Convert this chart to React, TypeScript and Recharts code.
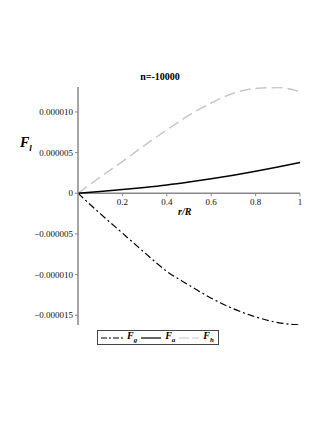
import { LineChart, Line, XAxis, YAxis, ReferenceLine } from 'recharts'

// r/R sample points
const rr = [0, 0.1, 0.2, 0.3, 0.4, 0.5, 0.6, 0.7, 0.8, 0.9, 1]
// values in units of 1e-6
const fg = [0, -2.5, -4.9, -7.3, -9.6, -11.3, -12.9, -14.2, -15.2, -15.9, -16.2]
const fa = [0, 0.22, 0.46, 0.72, 1.02, 1.38, 1.78, 2.22, 2.7, 3.22, 3.78]
const fh = [0, 2.0, 3.9, 5.9, 7.8, 9.6, 11.1, 12.3, 12.9, 13.0, 12.5]

const xTicks = [0.2, 0.4, 0.6, 0.8, 1]
const yTicks = [-0.000015, -0.00001, -0.000005, 0, 0.000005, 0.00001]
const Y_MIN = -0.0000162
const Y_MAX = 0.00001307

const data = rr.map((r, i) => ({ r, fg: fg[i] * 1e-6, fa: fa[i] * 1e-6, fh: fh[i] * 1e-6 }))

const W = 327
const H = 423
const TOP = 87
const BOTTOM = 325
const zeroY = TOP + ((BOTTOM - TOP) * Y_MAX) / (Y_MAX - Y_MIN)

const FONT = '"Liberation Serif", "DejaVu Serif", serif'
const AXIS = '#888'

const fmtY = (v: number) => (v === 0 ? '0' : v.toFixed(6).replace('-', '\u2212'))

function XTick(props: any) {
  const { x, payload } = props
  return (
    <g>
      <line x1={x} x2={x} y1={zeroY} y2={zeroY + 3} stroke={AXIS} />
      <text x={x} y={zeroY + 12} textAnchor="middle" fontFamily={FONT} fontSize={9} fill="#111">
        {payload.value}
      </text>
    </g>
  )
}

function Sub({ main, sub }: { main: string; sub: string }) {
  return (
    <span style={{ fontFamily: FONT, fontWeight: 'bold', fontStyle: 'italic', fontSize: 10 }}>
      {main}
      <sub style={{ fontSize: 7 }}>{sub}</sub>
    </span>
  )
}

export default function App() {
  return (
    <div style={{ position: 'absolute', left: 0, top: 0, width: W, height: H, background: '#fff' }}>
      <LineChart width={W} height={H} data={data} margin={{ top: TOP, right: 27, left: 8, bottom: H - BOTTOM - 1 }}>
        <XAxis
          dataKey="r"
          type="number"
          domain={[0, 1]}
          ticks={xTicks}
          height={1}
          axisLine={false}
          tickLine={false}
          interval={0}
          tick={(p: any) => <XTick {...p} />}
        />
        <YAxis
          type="number"
          domain={[Y_MIN, Y_MAX]}
          ticks={yTicks}
          width={70}
          allowDataOverflow
          tickFormatter={fmtY}
          axisLine={{ stroke: AXIS, strokeWidth: 1.5 }}
          tickLine={{ stroke: AXIS }}
          tickSize={3}
          tick={{ fontFamily: FONT, fontSize: 9, fill: '#111' }}
        />
        <ReferenceLine y={0} stroke={AXIS} strokeWidth={1.5} />
        <Line
          dataKey="fh"
          type="monotone"
          stroke="#c8c8c8"
          strokeWidth={1.5}
          strokeDasharray="11 5"
          dot={false}
          isAnimationActive={false}
        />
        <Line
          dataKey="fa"
          type="monotone"
          stroke="#000"
          strokeWidth={1.5}
          dot={false}
          isAnimationActive={false}
        />
        <Line
          dataKey="fg"
          type="monotone"
          stroke="#000"
          strokeWidth={1.2}
          strokeDasharray="7 3 2 3"
          dot={false}
          isAnimationActive={false}
        />
      </LineChart>

      <div
        style={{
          position: 'absolute',
          left: 0,
          width: 320,
          top: 71,
          textAlign: 'center',
          fontFamily: FONT,
          fontWeight: 'bold',
          fontSize: 10,
        }}
      >
        n=-10000
      </div>
      <div style={{ position: 'absolute', left: 20, top: 133 }}>
        <span style={{ fontFamily: FONT, fontWeight: 'bold', fontStyle: 'italic', fontSize: 14 }}>
          F<sub style={{ fontSize: 9 }}>l</sub>
        </span>
      </div>
      <div
        style={{
          position: 'absolute',
          left: 178,
          top: 206,
          fontFamily: FONT,
          fontWeight: 'bold',
          fontStyle: 'italic',
          fontSize: 10,
        }}
      >
        r/R
      </div>

      <div
        style={{
          position: 'absolute',
          left: 97,
          top: 330,
          width: 122,
          height: 15,
          border: '1px solid #444',
          display: 'flex',
          alignItems: 'center',
          gap: 4,
          paddingLeft: 3,
          boxSizing: 'border-box',
          lineHeight: 1,
        }}
      >
        <svg width={22} height={4}>
          <line x1={0} y1={2} x2={22} y2={2} stroke="#000" strokeWidth={1.2} strokeDasharray="6 2 2 2" />
        </svg>
        <Sub main="F" sub="g" />
        <svg width={20} height={4}>
          <line x1={0} y1={2} x2={20} y2={2} stroke="#000" strokeWidth={1.2} />
        </svg>
        <Sub main="F" sub="a" />
        <svg width={20} height={4}>
          <line x1={0} y1={2} x2={20} y2={2} stroke="#c8c8c8" strokeWidth={1.2} strokeDasharray="10 3" />
        </svg>
        <Sub main="F" sub="h" />
      </div>
    </div>
  )
}
